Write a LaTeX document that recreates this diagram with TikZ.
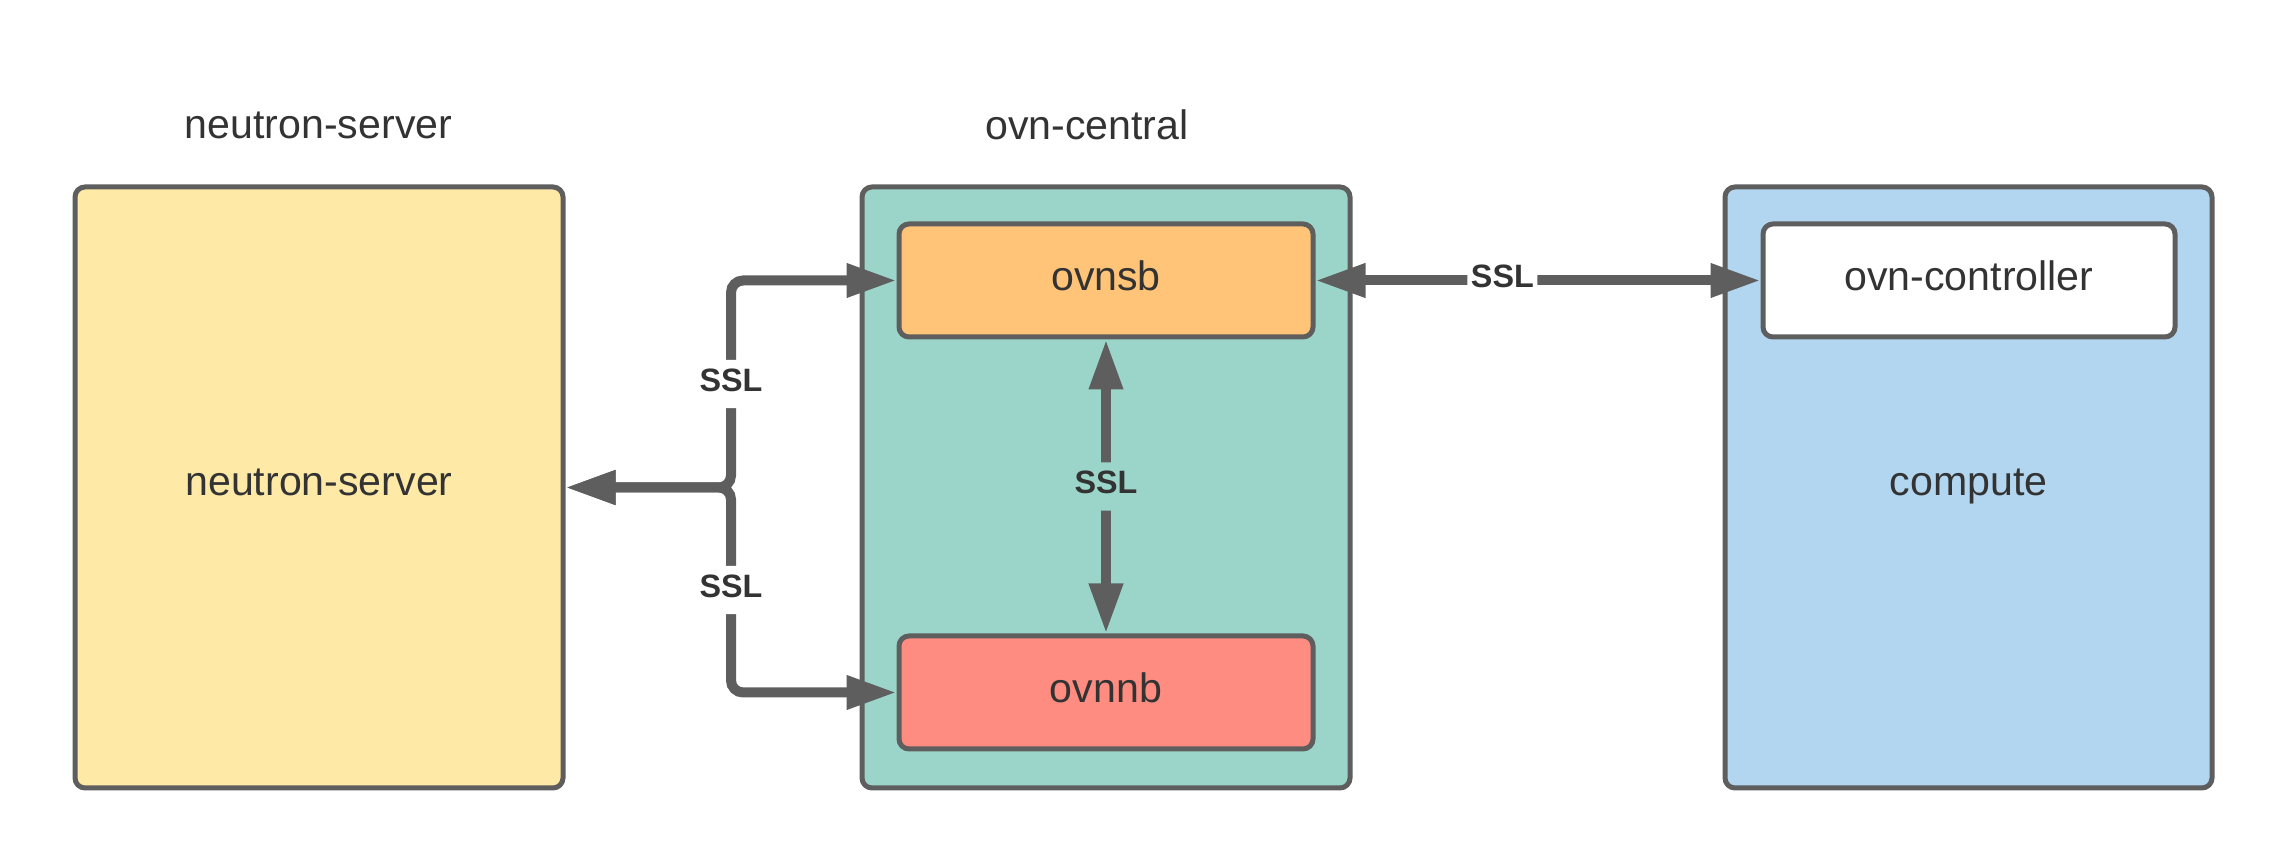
\documentclass[tikz,border=0pt]{standalone}
\usepackage{fontspec}
\setmainfont{Liberation Sans}
\usepackage{tikz}
\usetikzlibrary{arrows.meta}
\definecolor{edgegray}{HTML}{5E5E5E}
\definecolor{textgray}{HTML}{333333}
\definecolor{serverfill}{HTML}{FFE9A6}
\definecolor{centralfill}{HTML}{9BD5CA}
\definecolor{sbfill}{HTML}{FFC477}
\definecolor{nbfill}{HTML}{FF8C80}
\definecolor{computefill}{HTML}{B2D6EF}
\tikzset{
    arr/.tip={Triangle[length=0.5cm,width=0.32cm]}
}

\begin{document}
\begin{tikzpicture}[box/.style={draw=edgegray, line width=0.05cm, rounded corners=0.1cm, text=textgray, text depth=0.1cm, font=\fontsize{11.7}{14}\selectfont},
    title/.style={text=textgray, font=\fontsize{11.7}{14}\selectfont},
    conn/.style={draw=edgegray, line width=0.1cm, rounded corners=0.12cm, arr-arr},
    ssl/.style={text=textgray, font=\bfseries\fontsize{9.2}{11}\selectfont, fill=white, text depth=0.08cm, inner xsep=1pt, inner ysep=2.5pt}]
		\useasboundingbox (0,0) rectangle (22.88,8.63);

		% outer boxes
		\node[box, fill=serverfill, minimum width=4.88cm, minimum height=6.01cm] (ns) at (3.19,3.755) {neutron-server};
		\node[box, fill=centralfill, minimum width=4.88cm, minimum height=6.01cm] (central) at (11.06,3.755) {};
		\node[box, fill=computefill, minimum width=4.87cm, minimum height=6.01cm] (compute) at (19.685,3.755) {compute};

		\node[title] (nstitle) at (3.185,7.38) {neutron-server};
		\node[title] (centraltitle) at (10.87,7.38) {ovn-central};

		% inner boxes
		\node[box, fill=sbfill, minimum width=4.14cm, minimum height=1.13cm] (sb) at (11.06,5.825) {ovnsb};
		\node[box, fill=nbfill, minimum width=4.14cm, minimum height=1.13cm] (nb) at (11.06,1.705) {ovnnb};
		\node[box, fill=white, minimum width=4.12cm, minimum height=1.13cm] (ctl) at (19.69,5.825) {ovn-controller};

		% arrows
		\coordinate (split) at (7.31,3.755);
		\draw[conn] (ns.east) -- (split) |- node[pos=.25, ssl] {SSL} (sb.west);
		\draw[conn] (ns.east) -- (split) |- node[pos=.25, ssl] {SSL} (nb.west);
		\draw[conn] (sb.south) -- node[ssl, fill=centralfill] {SSL} (nb.north);
		\draw[conn] (sb.east) -- node[pos=.42, ssl] {SSL} (ctl.west);
\end{tikzpicture}
\end{document}
